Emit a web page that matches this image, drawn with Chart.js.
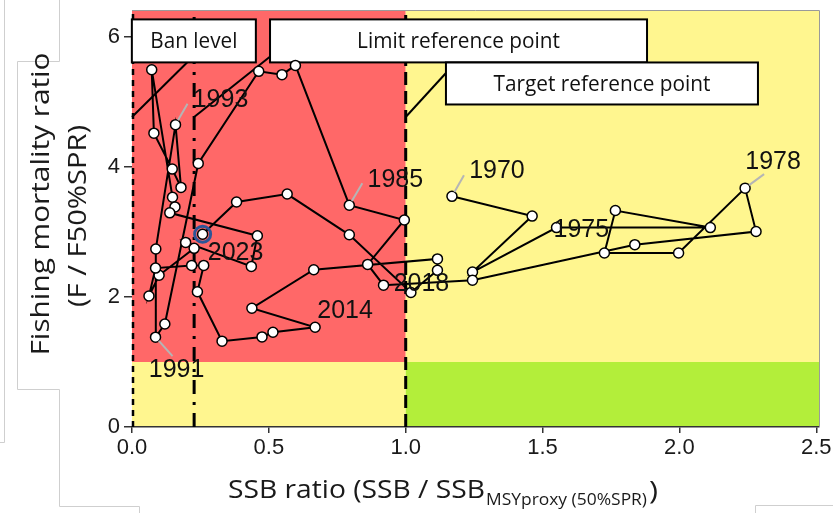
<!DOCTYPE html>
<html>
<head>
<meta charset="utf-8">
<title>Stock status trajectory</title>
<script src="https://cdn.jsdelivr.net/npm/chart.js@4.4.1/dist/chart.umd.min.js"></script>
<style>
html, body { margin: 0; padding: 0; background: #ffffff; }
canvas { display: block; }
</style>
</head>
<body>
<canvas id="kobe" width="833" height="513"></canvas>
<script>
// ---- data: SSB ratio vs fishing mortality ratio, 1970-2023 ----
const years = [
  1970, 1971, 1972, 1973, 1974, 1975, 1976, 1977, 1978, 1979,
  1980, 1981, 1982, 1983, 1984, 1985, 1986, 1987, 1988, 1989,
  1990, 1991, 1992, 1993, 1994, 1995, 1996, 1997, 1998, 1999,
  2000, 2001, 2002, 2003, 2004, 2005, 2006, 2007, 2008, 2009,
  2010, 2011, 2012, 2013, 2014, 2015, 2016, 2017, 2018, 2019,
  2020, 2021, 2022, 2023
];
const ssbRatio = [
  1.169, 1.462, 1.244, 1.551, 2.113, 1.766, 1.726, 1.997, 2.240, 2.280,
  1.837, 1.244, 0.919, 0.861, 0.995, 0.794, 0.597, 0.548, 0.463, 0.242,
  0.120, 0.086, 0.087, 0.159, 0.179, 0.147, 0.080, 0.072, 0.148, 0.157,
  0.138, 0.458, 0.436, 0.196, 0.227, 0.099, 0.062, 0.086, 0.218, 0.262,
  0.239, 0.329, 0.475, 0.515, 0.669, 0.438, 0.664, 1.116, 1.116, 1.019,
  0.794, 0.567, 0.382, 0.258
];
const fRatio = [
  3.549, 3.245, 2.384, 3.068, 3.068, 3.330, 2.677, 2.677, 3.675, 3.007,
  2.805, 2.258, 2.182, 2.501, 3.185, 3.412, 5.563, 5.421, 5.472, 4.055,
  1.584, 1.382, 2.738, 4.651, 3.686, 3.968, 4.521, 5.497, 3.534, 3.386,
  3.295, 2.942, 2.471, 2.840, 2.749, 2.334, 2.015, 2.445, 2.486, 2.486,
  2.080, 1.321, 1.386, 1.458, 1.534, 1.827, 2.419, 2.586, 2.410, 2.070,
  2.957, 3.584, 3.462, 2.966
];

const xTicks = [0, 0.5, 1.0, 1.5, 2.0, 2.5];
const yTicks = [0, 2, 4, 6];

// reference points on the SSB axis, and the F reference level
const refNames = ['Ban level', 'Limit reference point', 'Target reference point'];
const refSsb = [0.0, 0.227, 1.0];
const fRef = 1.0;

const labelledYears = [1970, 1975, 1978, 1985, 1991, 1993, 2014, 2018, 2023];

// ---- styling / placement ----
const X_MAX = 2.51, Y_MAX = 6.4;
const ZONE = { red: '#FF6868', yellow: '#FFF68F', green: '#B3EE3A' };
const refLineStyle = [
  { dash: [6, 5], width: 2.5 },
  { dash: [14, 8, 3, 8], width: 3 },
  { dash: [13, 6], width: 3 }
];
// label boxes: centre (data units), size (px), text width (px), leader end (data units)
const refBoxes = [
  { cx: 0.226, cy: 5.94, w: 124, h: 43, tw: 87, end: [0.204, 5.62] },
  { cx: 1.193, cy: 5.94, w: 377, h: 43, tw: 203, end: [0.505, 5.70] },
  { cx: 1.717, cy: 5.285, w: 312, h: 42, tw: 217, end: [1.148, 5.45] }
];
const leaderF = 4.77;
// year label offsets from the point (px), optional leader segment end (px)
const yearLabelPos = {
  1970: { dx: 45, dy: -27, seg: [12, -21] },
  1975: { dx: -34, dy: 17 },
  1978: { dx: 28, dy: -28, seg: [19, -14] },
  1985: { dx: 46, dy: -27, seg: [13, -22] },
  1991: { dx: 21, dy: 31, seg: [17, 19] },
  1993: { dx: 45, dy: -27, seg: [12, -21] },
  2014: { dx: 30, dy: -18 },
  2018: { dx: -16, dy: 12 },
  2023: { dx: 33, dy: 17 }
};
const TITLE_FONT = '"Open Sans", "Noto Sans", sans-serif';
const NUM_FONT = '"Liberation Sans", Arial, sans-serif';

// draw text squeezed/stretched horizontally to a given width
function fitText(ctx, text, x, y, width, font, align) {
  ctx.font = font;
  const m = ctx.measureText(text).width;
  ctx.save();
  ctx.translate(x, y);
  ctx.scale(width / m, 1);
  ctx.textAlign = align || 'left';
  ctx.fillText(text, 0, 0);
  ctx.restore();
}

const backdrop = {
  id: 'backdrop',
  beforeDraw(chart) {
    const { ctx, chartArea: a, scales: { x, y } } = chart;
    ctx.save();
    ctx.fillStyle = '#ffffff';
    ctx.fillRect(0, 0, chart.width, chart.height);

    // thin frame lines around the page
    ctx.strokeStyle = '#cfcfcf';
    ctx.lineWidth = 1;
    const frames = [
      [[4.5, 0], [4.5, 442.5], [0, 442.5]],
      [[59.5, 0], [59.5, 61.5], [17.5, 61.5], [17.5, 389.5], [59.5, 389.5], [59.5, 506.5], [139.5, 506.5], [139.5, 513]],
      [[755.5, 513], [755.5, 505.5], [833, 505.5]]
    ];
    frames.forEach(f => {
      ctx.beginPath();
      f.forEach((p, i) => i ? ctx.lineTo(p[0], p[1]) : ctx.moveTo(p[0], p[1]));
      ctx.stroke();
    });

    const xb = x.getPixelForValue(refSsb[2]);
    const yb = y.getPixelForValue(fRef);
    ctx.fillStyle = ZONE.red;    ctx.fillRect(a.left, a.top, xb - a.left, yb - a.top);
    ctx.fillStyle = ZONE.yellow; ctx.fillRect(a.left, yb, xb - a.left, a.bottom - yb);
    ctx.fillStyle = ZONE.yellow; ctx.fillRect(xb, a.top, a.right - xb, yb - a.top);
    ctx.fillStyle = ZONE.green;  ctx.fillRect(xb, yb, a.right - xb, a.bottom - yb);
    ctx.restore();
  },
  beforeDatasetsDraw(chart) {
    const { ctx, chartArea: a, scales: { x, y } } = chart;
    ctx.save();
    // panel outline on top and right
    ctx.strokeStyle = '#9a9a9a';
    ctx.lineWidth = 1;
    ctx.beginPath();
    ctx.moveTo(a.left, a.top - 0.5); ctx.lineTo(a.right + 0.5, a.top - 0.5); ctx.lineTo(a.right + 0.5, a.bottom);
    ctx.stroke();

    // vertical reference lines
    ctx.strokeStyle = '#000';
    refSsb.forEach((v, i) => {
      const px = x.getPixelForValue(v) + (i === 0 ? 1 : 0);
      ctx.setLineDash(refLineStyle[i].dash);
      ctx.lineWidth = refLineStyle[i].width;
      ctx.beginPath();
      ctx.moveTo(px, a.bottom);
      ctx.lineTo(px, a.top);
      ctx.stroke();
    });
    ctx.setLineDash([]);

    // leaders from each reference line to its label
    ctx.lineWidth = 2;
    refSsb.forEach((v, i) => {
      const b = refBoxes[i];
      ctx.beginPath();
      ctx.moveTo(x.getPixelForValue(v), y.getPixelForValue(leaderF));
      ctx.lineTo(x.getPixelForValue(b.end[0]), y.getPixelForValue(b.end[1]));
      ctx.stroke();
    });

    // label boxes
    refBoxes.forEach((b, i) => {
      const cx = x.getPixelForValue(b.cx), cy = y.getPixelForValue(b.cy);
      ctx.fillStyle = '#fff';
      ctx.fillRect(cx - b.w / 2, cy - b.h / 2, b.w, b.h);
      ctx.lineWidth = 2;
      ctx.strokeStyle = '#000';
      ctx.strokeRect(cx - b.w / 2, cy - b.h / 2, b.w, b.h);
      ctx.fillStyle = '#111';
      fitText(ctx, refNames[i], cx, cy + 7.5, b.tw, '21px ' + TITLE_FONT, 'center');
    });
    ctx.restore();
  },
  afterDatasetsDraw(chart) {
    const { ctx, scales: { x, y } } = chart;
    ctx.save();
    labelledYears.forEach(yr => {
      const i = years.indexOf(yr);
      const px = x.getPixelForValue(ssbRatio[i]);
      const py = y.getPixelForValue(fRatio[i]);
      const p = yearLabelPos[yr];
      if (p.seg) {
        const len = Math.hypot(p.seg[0], p.seg[1]);
        ctx.strokeStyle = '#b5b5b5';
        ctx.lineWidth = 2;
        ctx.beginPath();
        ctx.moveTo(px + p.seg[0] * 5 / len, py + p.seg[1] * 5 / len);
        ctx.lineTo(px + p.seg[0], py + p.seg[1]);
        ctx.stroke();
      }
      ctx.fillStyle = '#111';
      ctx.font = '25px ' + NUM_FONT;
      ctx.textAlign = 'center';
      ctx.textBaseline = 'alphabetic';
      ctx.fillText(String(yr), px + p.dx, py + p.dy + 9);
    });
    ctx.restore();
  },
  afterDraw(chart) {
    const { ctx } = chart;
    ctx.save();
    ctx.fillStyle = '#1a1a1a';
    // x axis title with subscript
    fitText(ctx, 'SSB ratio (SSB / SSB', 228, 498, 257, '25px ' + TITLE_FONT);
    fitText(ctx, 'MSYproxy (50%SPR)', 486, 505, 161, '16px ' + TITLE_FONT);
    fitText(ctx, ')', 649, 499, 9, '25px ' + TITLE_FONT);
    // y axis title, two lines
    [['Fishing mortality ratio', 49, 204, 303], ['(F / F50%SPR)', 86, 216, 182]].forEach(t => {
      ctx.save();
      ctx.translate(t[1], t[2]);
      ctx.rotate(-Math.PI / 2);
      fitText(ctx, t[0], 0, 0, t[3], '25px ' + TITLE_FONT, 'center');
      ctx.restore();
    });
    ctx.restore();
  }
};

const last = years.length - 1;
new Chart(document.getElementById('kobe'), {
  type: 'scatter',
  data: {
    datasets: [
      {
        label: 'latest year',
        data: [{ x: ssbRatio[last], y: fRatio[last] }],
        showLine: false,
        pointRadius: 8,
        pointBorderWidth: 3,
        pointBorderColor: '#2C5597',
        pointBackgroundColor: 'rgba(0,0,0,0)',
        order: 0
      },
      {
        label: 'trajectory',
        data: years.map((yr, i) => ({ x: ssbRatio[i], y: fRatio[i] })),
        showLine: true,
        borderColor: '#000',
        borderWidth: 2,
        tension: 0,
        pointRadius: 5,
        pointBorderWidth: 1.5,
        pointBorderColor: '#000',
        pointBackgroundColor: '#fff',
        order: 1
      }
    ]
  },
  options: {
    responsive: false,
    animation: false,
    devicePixelRatio: 1,
    events: [],
    layout: { padding: { left: 0, top: 6, right: 14, bottom: 0 } },
    plugins: { legend: { display: false }, tooltip: { enabled: false } },
    scales: {
      x: {
        type: 'linear', min: 0, max: X_MAX,
        afterBuildTicks: s => { s.ticks = xTicks.map(v => ({ value: v })); },
        afterFit: s => { s.height = 86; s.paddingLeft = 0; s.paddingRight = 0; },
        ticks: {
          callback: v => v.toFixed(1), autoSkip: false, maxRotation: 0,
          color: '#1a1a1a', padding: 2, font: { family: NUM_FONT, size: 22 }
        },
        grid: { drawOnChartArea: false, drawTicks: true, tickLength: 6, color: '#333', lineWidth: 1.5 },
        border: { display: true, color: '#333', width: 1.5 }
      },
      y: {
        type: 'linear', min: 0, max: Y_MAX,
        afterBuildTicks: s => { s.ticks = yTicks.map(v => ({ value: v })); },
        afterFit: s => { s.width = 132; s.paddingTop = 0; s.paddingBottom = 0; },
        ticks: {
          autoSkip: false, color: '#1a1a1a', padding: 4,
          font: { family: NUM_FONT, size: 22 }
        },
        grid: { drawOnChartArea: false, drawTicks: true, tickLength: 8, color: '#333', lineWidth: 1.5 },
        border: { display: false }
      }
    }
  },
  plugins: [backdrop]
});
</script>
</body>
</html>
